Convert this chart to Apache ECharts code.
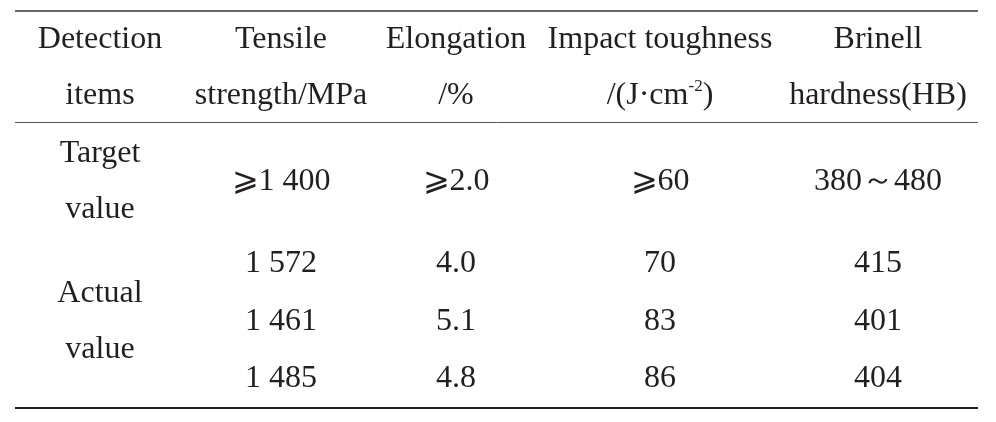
<!DOCTYPE html>
<html>
<head>
<meta charset="utf-8">
<script src="https://cdn.jsdelivr.net/npm/echarts@6/dist/echarts.min.js"></script>
<style>
  html, body { margin: 0; padding: 0; background: #fff; }
  #main { width: 996px; height: 422px; }
</style>
</head>
<body>
<div id="main"></div>
<script>
// table content
let headTop = ['Detection', 'Tensile', 'Elongation', 'Impact toughness', 'Brinell'];
let headBottom = ['items', 'strength/MPa', '/%', '/(J·cm{sup|-2})', 'hardness(HB)'];
let rowNames = ['Target\nvalue', 'Actual\nvalue'];
let targetValues = ['⩾1 400', '⩾2.0', '⩾60', '380～480'];
let tensile = [1572, 1461, 1485];
let elongation = [4.0, 5.1, 4.8];
let impact = [70, 83, 86];
let hardness = [415, 401, 404];

// layout (pixel centres inside the grid)
let colX = [100, 281, 456, 660, 878];
let headY = [40, 96];
let targetY = 182;
let actualY = [264, 322, 379];
let actualLabelY = 321.5;

let textColor = '#231f20';
let fontFamily = "'Liberation Serif', 'Times New Roman', 'DejaVu Serif', serif";

function spaced(n)
{
    let s = String(n);
    if (s.length > 3)
    {
        s = s.slice(0, s.length - 3) + ' ' + s.slice(s.length - 3);
    }
    return s;
}

let cells = [];
headTop.forEach((t, i) => { cells.push({ name: t, value: [colX[i], headY[0]] }); });
headBottom.forEach((t, i) => { cells.push({ name: t, value: [colX[i], headY[1]] }); });
cells.push({ name: rowNames[0], value: [colX[0], targetY] });
targetValues.forEach((t, i) => { cells.push({ name: t, value: [colX[i + 1], targetY] }); });
cells.push({ name: rowNames[1], value: [colX[0], actualLabelY] });
for (let r = 0; r < tensile.length; r++)
{
    cells.push({ name: spaced(tensile[r]), value: [colX[1], actualY[r]] });
    cells.push({ name: elongation[r].toFixed(1), value: [colX[2], actualY[r]] });
    cells.push({ name: String(impact[r]), value: [colX[3], actualY[r]] });
    cells.push({ name: String(hardness[r]), value: [colX[4], actualY[r]] });
}

var myChart = echarts.init(document.getElementById('main'));

let option = {
    animation: false,
    backgroundColor: '#ffffff',
    grid: { left: 15, right: 18, top: 10, bottom: 14 },
    xAxis: {
        type: 'value', min: 15, max: 978,
        show: false
    },
    yAxis: {
        type: 'value', min: 10, max: 408, inverse: true,
        show: false
    },
    series: [{
        type: 'scatter',
        symbolSize: 0,
        silent: true,
        itemStyle: { opacity: 1 },
        data: cells,
        label: {
            show: true,
            position: 'inside',
            formatter: '{b}',
            color: textColor,
            fontFamily: fontFamily,
            fontSize: 32,
            lineHeight: 56,
            rich: {
                sup: {
                    fontFamily: fontFamily,
                    fontSize: 17,
                    lineHeight: 17,
                    color: textColor,
                    padding: [0, 0, 18, 0]
                }
            }
        },
        markLine: {
            silent: true,
            symbol: 'none',
            label: { show: false },
            data: [
                { yAxis: 10.5, lineStyle: { color: '#333', width: 1.5, type: 'solid' } },
                { yAxis: 122, lineStyle: { color: '#555', width: 1, type: 'solid' } },
                { yAxis: 407.5, lineStyle: { color: '#222', width: 2, type: 'solid' } }
            ]
        }
    }]
};

myChart.setOption(option);
</script>
</body>
</html>
